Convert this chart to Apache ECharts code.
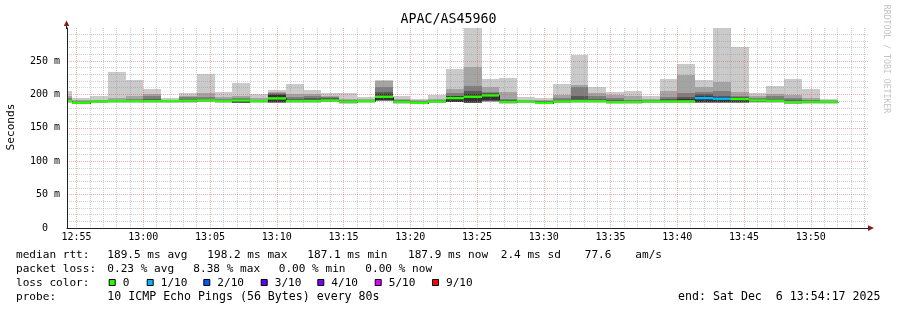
<!DOCTYPE html>
<html><head><meta charset="utf-8">
<script src="https://cdn.jsdelivr.net/npm/echarts@6/dist/echarts.min.js"></script>
<style>html,body{margin:0;padding:0;background:#fff}#c{width:897px;height:310px}</style>
</head><body><div id="c"></div>
<script>
// ---------------- data ----------------
const chartTitle = 'APAC/AS45960';
const rangeStart = '12:54:17';
const rangeEnd = '13:54:17';
const stepSeconds = 80;
const slotStart = ['12:53:20','12:54:40','12:56:00','12:57:20','12:58:40','13:00:00','13:01:20','13:02:40','13:04:00','13:05:20','13:06:40','13:08:00','13:09:20','13:10:40','13:12:00','13:13:20','13:14:40','13:16:00','13:17:20','13:18:40','13:20:00','13:21:20','13:22:40','13:24:00','13:25:20','13:26:40','13:28:00','13:29:20','13:30:40','13:32:00','13:33:20','13:34:40','13:36:00','13:37:20','13:38:40','13:40:00','13:41:20','13:42:40','13:44:00','13:45:20','13:46:40','13:48:00','13:49:20','13:50:40'];
// sorted ping RTTs per slot (ms), ping1 = fastest ... ping10 = slowest
const ping1 = [187,185.5,187,187,187,187,187,187.5,188,187,187,187,187.3,187,187,188,186,187,189.5,186,185,186.5,188,187,188,186,186.5,185,186.5,187,187,186,186,186.5,186.5,186.5,187.5,187.5,187.5,187.5,187,185.5,186,186];
const ping2 = [188,186,187.5,188,188,188,188,188,189,188,187.3,188,187.5,188,188,189,187,188,190,187,185.5,187.5,188.3,187.3,189,187,187.5,185.5,187.5,188,188,187,187,187.5,187.5,187.5,187.7,187.7,187.7,188,188,186,187,187];
const ping3 = [188.5,186.5,188,188.5,188.5,188.5,188.5,189,189.5,188.5,187.6,188.5,187.8,188.5,188.5,189.5,187.5,188.5,190.5,187.5,186,188,188.5,187.5,190,187.5,188,186,188,188.5,188.5,187.5,187.5,188,188,188,187.8,187.8,187.8,188.5,188.5,186.5,187.5,187.5];
const ping4 = [189,187,188.5,189,189,189,189,189.5,190,189,187.8,189,188,189,189,190,188,189,191,188,186.5,188.5,188.8,187.8,190.5,188,188.5,186.5,188.5,189,189,188,188,188.5,188.5,188.5,188,188,188,189,189,187,188,188];
const ping5 = [189.5,187.5,189,189.5,189.5,189.5,189.5,190,190.5,189.5,188,189.5,188.5,189.5,189.5,190.5,188.5,189.5,192,188.5,186.8,189,189,188,191,188.5,189,186.8,189,189.5,189.5,188.5,188.5,189,189,189,188.3,188.3,188.5,189.5,189.5,187.5,188.5,188.5];
const ping6 = [191,188.5,190,190.5,190.5,191,190.5,191,192,191,193,190.5,199,191.5,192,192.5,190,190.5,200,190,188.5,190.5,197,201,201,191,190,188.5,191,192,191.5,190,190,190,191,193,198,196,195,192,192,190,190,189.5];
const ping7 = [192,189,190.5,191,191.5,193,190.5,193,193.5,192,193.5,191,200,193,195,194,190.5,191,204,191,189,191,198,205,202,192,190.5,189.5,192,197,192.5,191,191,191,193,196,200,198,196,193,193,192,191,190];
const ping8 = [194,190,191,192,193,197.5,191,196,196,193,194,192,202,196,198,196.6,191,192,211,191.5,190,191.5,201.6,212.6,204,193,191,190,195,211,197,194,192,192,196.6,202.6,204,204.6,198,195,198,195,192,190.5];
const ping9 = [197,191,192,195,197,201,192,198,202.5,196,197,195,204,200,201,197,193,193,220,193,191,193,208.6,241.5,211,204,192,191,199.6,214,202.6,198.6,197,193,205.5,229.5,211.5,218.5,204,197,201,199.6,195,191];
const ping10 = [205.5,194.5,197.5,233.5,221.5,208.5,194.5,202,231,203.6,217.5,200.6,206.6,216,206.6,201.6,201.6,195.6,221.5,197.6,192.6,199.6,238.5,305,222.6,224.5,195.6,194.6,215.5,259,211.5,203.6,205.5,197.6,222.6,245.5,221.5,305,271.5,201.6,212.6,222.6,208,192.6];
const medianRtt = [190,187.5,189.5,190,190,190,190,190.5,191,190,191,190,194,190,190,191,189,190,196.5,189,187.3,189.5,194.5,196.5,198.5,189,189.5,187.3,189.5,190,190,188.5,189,189.5,189.5,189.5,194.5,193.5,193,191,190.5,188.5,189,189];
const lostPings = [0,0,0,0,0,0,0,0,0,0,0,0,0,0,0,0,0,0,0,0,0,0,0,0,0,0,0,0,0,0,0,0,0,0,0,0,1,1,0,0,0,0,0,0];
const xTickLabels = ['12:55','13:00','13:05','13:10','13:15','13:20','13:25','13:30','13:35','13:40','13:45','13:50'];
const yTickValues = [0,50,100,150,200,250];
const lossLabels = ['0','1/10','2/10','3/10','4/10','5/10','9/10'];
const lossColors = ['#26ff00','#00b8ff','#0059ff','#5e00ff','#7e00ff','#dd00ff','#ff0000'];
const rttStats = ['189.5 ms avg','198.2 ms max','187.1 ms min','187.9 ms now','2.4 ms sd','77.6','am/s'];
const lossStats = ['0.23 % avg','8.38 % max','0.00 % min','0.00 % now'];
const probeText = '10 ICMP Echo Pings (56 Bytes) every 80s';
const endText = 'end: Sat Dec  6 13:54:17 2025';

// ---------------- helpers ----------------
function toMin(s){const p=s.split(':').map(Number);return p[0]*60+p[1]+(p[2]||0)/60;}
const pings=[ping1,ping2,ping3,ping4,ping5,ping6,ping7,ping8,ping9,ping10];
const slotMin=slotStart.map(toMin);
const stepMin=stepSeconds/60;
const xMin=toMin(rangeStart), xMax=toMin(rangeEnd);
const yMax=299.4;
const majorX=xTickLabels.map(toMin);
const minorX=[];for(let m=Math.ceil(xMin);m<=xMax;m++){if(m%5!==0)minorX.push(m);}
const majorY=yTickValues.filter(v=>v>0);
const minorY=[];for(let v=10;v<yMax;v+=10){if(v%50!==0)minorY.push(v);}
const smokeColors=['#cacaca','#a4a4a4','#7e7e7e','#585858','#323232'];
function lossIdx(n){return n===0?0:(n<=4?n:(n<=8?5:6));}
function pad(n){return (n<10?'0':'')+n;}
const MONO='"DejaVu Sans Mono", monospace';

function colX(api,i){const t=slotMin[i];return [Math.round(api.coord([t,0])[0]),Math.round(api.coord([t+stepMin,0])[0])];}
function yPx(api,v){return api.coord([slotMin[0],v])[1];}

function renderSmoke(params,api){
  const i=params.dataIndex;const [x0,x1]=colX(api,i);const ch=[];
  for(let j=0;j<5;j++){
    const yl=Math.round(yPx(api,pings[j][i])),yh=Math.round(yPx(api,pings[9-j][i]));
    ch.push({type:'rect',shape:{x:x0,y:yh,width:x1-x0,height:Math.max(1,yl-yh)},style:{fill:smokeColors[j]}});
  }
  return {type:'group',children:ch};
}
function renderMedLine(params,api){
  const i=params.dataIndex;const [x0,x1]=colX(api,i);
  const y=Math.round(yPx(api,medianRtt[i]))+0.5;
  const yp=i>0?Math.round(yPx(api,medianRtt[i-1]))+0.5:y;
  return {type:'polyline',shape:{points:[[x0+0.5,yp],[x0+0.5,y],[x1+0.5,y]]},style:{stroke:'#202020',lineWidth:1,fill:null}};
}
function renderLoss(params,api){
  const i=params.dataIndex;const [x0,x1]=colX(api,i);
  const yh=yPx(api,medianRtt[i]+1.8),yl=yPx(api,medianRtt[i]-1.8);
  return {type:'rect',shape:{x:x0,y:yh,width:x1-x0,height:yl-yh},style:{fill:lossColors[lossIdx(lostPings[i])]}};
}
const seriesData=slotMin.map((t,i)=>[t,medianRtt[i]]);

// ---------------- graphics (text) ----------------
const F='11.1px '+MONO;
function txt(x,y,s,font,align){return {type:'text',x:x,y:y,silent:true,style:{text:s,font:font||F,fill:'#000',verticalAlign:'middle',align:align||'left'}};}
const gfx=[];
gfx.push({type:'text',x:448.5,y:20,style:{text:chartTitle,font:'13.3px '+MONO,fill:'#000',align:'center',verticalAlign:'middle'}});
gfx.push({type:'text',x:11,y:127,rotation:Math.PI/2,style:{text:'Seconds',font:F,fill:'#000',align:'center',verticalAlign:'middle'}});
gfx.push({type:'text',x:886,y:59,rotation:-Math.PI/2,style:{text:'RRDTOOL / TOBI OETIKER',font:'8.2px '+MONO,fill:'#c4c4c4',align:'center',verticalAlign:'middle'}});
// arrows
gfx.push({type:'line',shape:{x1:66.5,y1:29,x2:66.5,y2:25},style:{stroke:'#1f1f1f',lineWidth:1}});
gfx.push({type:'polygon',shape:{points:[[63.8,26],[69.3,26],[66.5,20.5]]},style:{fill:'#801f1f'}});
gfx.push({type:'polygon',shape:{points:[[868,225.2],[868,231],[874,228.1]]},style:{fill:'#801f1f'}});
// legend rows
gfx.push(txt(16,255,'median rtt:'));
[107.3,207.3,307.3,408,500.7,584.7,635.3].forEach((x,k)=>gfx.push(txt(x,255,rttStats[k])));
gfx.push(txt(16,269,'packet loss:'));
[107.3,193.3,278.7,365.3].forEach((x,k)=>gfx.push(txt(x,269,lossStats[k])));
gfx.push(txt(16,283,'loss color:'));
[108.7,146.7,203.3,260.7,317.3,374.7,432].forEach((x,k)=>{
  gfx.push({type:'rect',shape:{x:x+0.5,y:279.5,width:6,height:6},style:{fill:lossColors[k],stroke:'#000',lineWidth:1}});
  gfx.push(txt(x+14,283,lossLabels[k]));
});
gfx.push(txt(16,297,'probe:'));
gfx.push(txt(107.3,297,probeText,'11.6px '+MONO));
gfx.push(txt(880.5,297,endText,'11.6px '+MONO,'right'));

// ---------------- chart ----------------
const chart=echarts.init(document.getElementById('c'),null,{renderer:'canvas'});
const gridLineMinor={show:true,lineStyle:{color:'rgba(143,143,143,0.42)',width:1,type:[1,1]}};
const gridLineMajor={show:true,lineStyle:{color:'rgba(222,79,79,0.45)',width:1,type:[1,1]}};
chart.setOption({
  animation:false,
  backgroundColor:'#fff',
  grid:{left:67,right:29,top:28,bottom:82,containLabel:false,outerBoundsMode:'none'},
  xAxis:[
    {type:'value',min:xMin,max:xMax,position:'bottom',z:5,
     axisLine:{show:true,onZero:false,lineStyle:{color:'#1f1f1f',width:1}},
     axisTick:{show:false,customValues:minorX},axisLabel:{show:false},splitLine:gridLineMinor},
    {type:'value',min:xMin,max:xMax,position:'bottom',z:6,
     axisLine:{show:false,onZero:false},axisTick:{show:false,customValues:majorX},
     axisLabel:{show:true,customValues:majorX,margin:4,fontFamily:MONO,fontSize:10,color:'#000',
       formatter:v=>{const r=Math.round(v);return pad(Math.floor(r/60))+':'+pad(r%60);}},
     splitLine:gridLineMajor}
  ],
  yAxis:[
    {type:'value',min:0,max:yMax,position:'left',z:5,
     axisLine:{show:false},axisTick:{show:false,customValues:minorY},axisLabel:{show:false},splitLine:gridLineMinor},
    {type:'value',min:0,max:yMax,position:'left',z:6,
     axisLine:{show:true,onZero:false,lineStyle:{color:'#1f1f1f',width:1}},
     axisTick:{show:false,customValues:majorY},
     axisLabel:{show:true,customValues:yTickValues,margin:7,fontFamily:MONO,fontSize:10,color:'#000',
       formatter:v=>v===0?'0  ':(v+' m')},
     splitLine:gridLineMajor}
  ],
  series:[
    {type:'custom',name:'smoke',xAxisIndex:0,yAxisIndex:0,clip:true,z:1,renderItem:renderSmoke,data:seriesData,encode:{x:0,y:1},silent:true},
    {type:'custom',name:'median',xAxisIndex:0,yAxisIndex:0,clip:true,z:2,renderItem:renderMedLine,data:seriesData,encode:{x:0,y:1},silent:true},
    {type:'custom',name:'loss',xAxisIndex:0,yAxisIndex:0,clip:true,z:3,renderItem:renderLoss,data:seriesData,encode:{x:0,y:1},silent:true}
  ],
  graphic:gfx
});
</script></body></html>
